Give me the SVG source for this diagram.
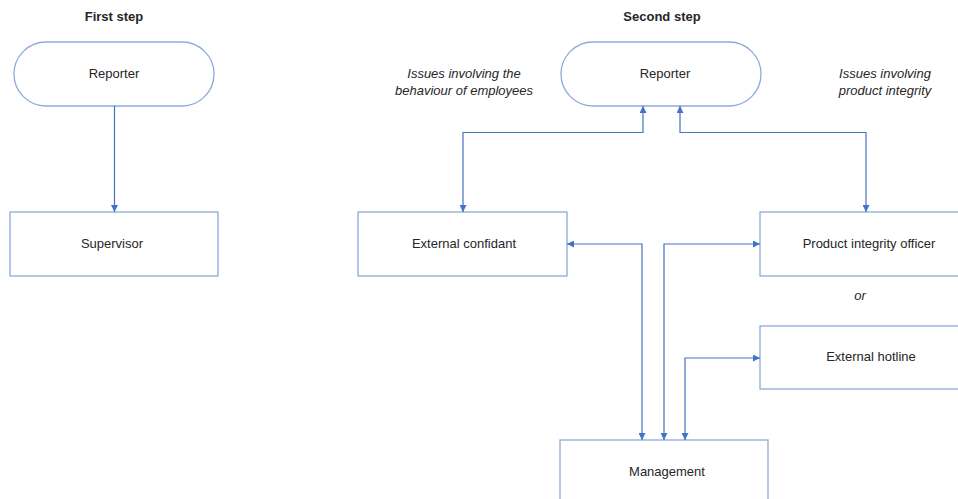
<svg xmlns="http://www.w3.org/2000/svg" width="958" height="499" viewBox="0 0 958 499">
<style>
.node{fill:#fff;stroke:#8eaadb;stroke-width:1.3}
.t{font-family:"Liberation Sans",Arial,sans-serif;font-size:13px;fill:#262626;text-anchor:middle}
.b{font-weight:bold}
.i{font-style:italic}
.c{fill:none;stroke:#4472c4;stroke-width:1.2}
</style>
<defs>
<marker id="ah" viewBox="0 0 10 10" refX="10" refY="5" markerWidth="7" markerHeight="7" orient="auto-start-reverse" markerUnits="userSpaceOnUse">
<path d="M0,0 L10,5 L0,10 z" fill="#4472c4"/>
</marker>
</defs>
<rect width="958" height="499" fill="#fff"/>
<text class="t b" x="114" y="21">First step</text>
<text class="t b" x="662" y="21">Second step</text>
<text class="t i" x="464" y="78">Issues involving the</text>
<text class="t i" x="464" y="95">behaviour of employees</text>
<text class="t i" x="885" y="78">Issues involving</text>
<text class="t i" x="885" y="95">product integrity</text>
<text class="t i" x="860" y="300">or</text>
<g id="reporter1"><rect class="node" x="14" y="42" width="200" height="64" rx="32"/><text class="t" x="114" y="78">Reporter</text></g>
<g id="supervisor"><rect class="node" x="10" y="212" width="208" height="64"/><text class="t" x="112" y="248">Supervisor</text></g>
<g id="reporter2"><rect class="node" x="561" y="42" width="200" height="64" rx="32"/><text class="t" x="665" y="78">Reporter</text></g>
<g id="confidant"><rect class="node" x="358" y="212" width="209" height="64"/><text class="t" x="464" y="248">External confidant</text></g>
<g id="pio"><rect class="node" x="760" y="212" width="206" height="64"/><text class="t" x="869" y="248">Product integrity officer</text></g>
<g id="hotline"><rect class="node" x="760" y="326" width="206" height="63"/><text class="t" x="871" y="361">External hotline</text></g>
<g id="management"><rect class="node" x="560" y="440" width="208" height="70"/><text class="t" x="667" y="476">Management</text></g>
<g id="connectors">
<path class="c" d="M114.5,106 V212" marker-end="url(#ah)"/>
<path class="c" d="M643,106 V132.5 H463 V212" marker-start="url(#ah)" marker-end="url(#ah)"/>
<path class="c" d="M680,106 V132.5 H866 V212" marker-start="url(#ah)" marker-end="url(#ah)"/>
<path class="c" d="M567,244 H642 V440" marker-start="url(#ah)" marker-end="url(#ah)"/>
<path class="c" d="M760,244 H664 V440" marker-start="url(#ah)" marker-end="url(#ah)"/>
<path class="c" d="M760,358 H685 V440" marker-start="url(#ah)" marker-end="url(#ah)"/>
</g>
</svg>
